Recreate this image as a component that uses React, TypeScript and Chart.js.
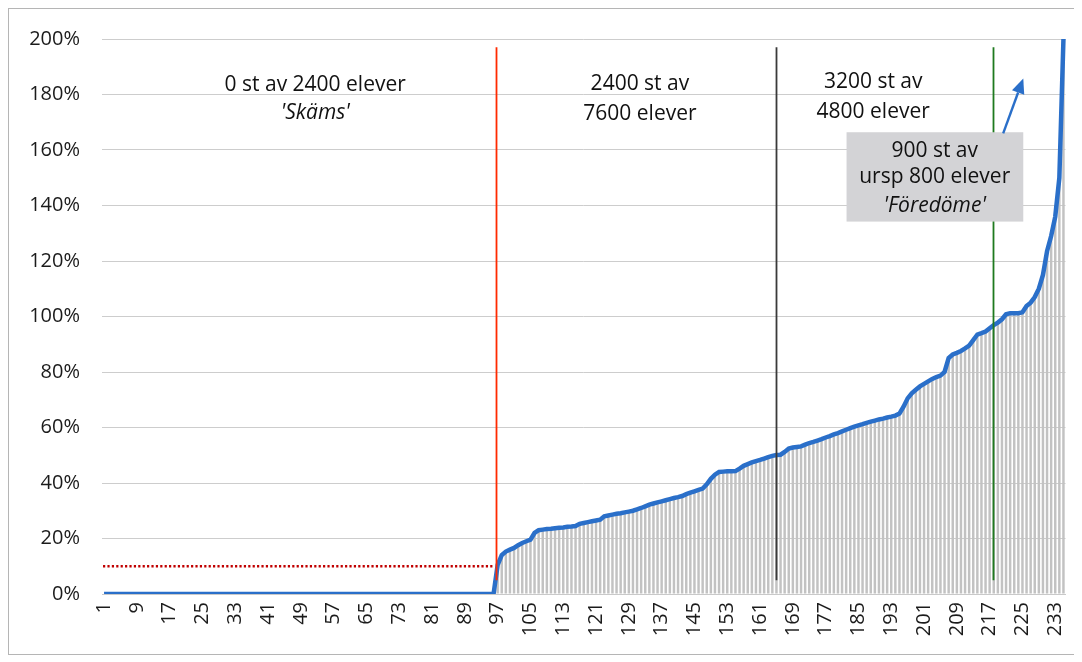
import React, { useEffect, useRef } from 'react';
import { Chart, registerables } from 'chart.js';

Chart.register(...registerables);

// x categories: school rank 1..235
const categories: string[] = Array.from({ length: 235 }, (_, i) => String(i + 1));

// tick labels actually printed on the x axis
const shownTickLabels = [
  '1', '9', '17', '25', '33', '41', '49', '57', '65', '73', '81', '89', '97', '105', '113',
  '121', '129', '137', '145', '153', '161', '169', '177', '185', '193', '201', '209', '217', '225', '233',
];

// rank 1..96: share = 0 %
const zeroRates = [
  0, 0, 0, 0, 0, 0, 0, 0, 0, 0, 0, 0,
  0, 0, 0, 0, 0, 0, 0, 0, 0, 0, 0, 0,
  0, 0, 0, 0, 0, 0, 0, 0, 0, 0, 0, 0,
  0, 0, 0, 0, 0, 0, 0, 0, 0, 0, 0, 0,
  0, 0, 0, 0, 0, 0, 0, 0, 0, 0, 0, 0,
  0, 0, 0, 0, 0, 0, 0, 0, 0, 0, 0, 0,
  0, 0, 0, 0, 0, 0, 0, 0, 0, 0, 0, 0,
  0, 0, 0, 0, 0, 0, 0, 0, 0, 0, 0, 0,
];

// rank 97..235
const risingRates = [
  10.5, 14, 15.3, 16, 16.6, 17.6, 18.4, 19, 19.6, 22,
  23, 23.2, 23.4, 23.5, 23.7, 23.9, 24, 24.2, 24.3, 24.5,
  25.3, 25.6, 25.9, 26.2, 26.5, 26.8, 28, 28.3, 28.6, 28.9,
  29.1, 29.4, 29.7, 30, 30.5, 31, 31.6, 32.2, 32.6, 33,
  33.4, 33.8, 34.2, 34.6, 34.9, 35.3, 36, 36.5, 37, 37.5,
  38, 39.5, 41.5, 43, 44, 44.1, 44.2, 44.2, 44.3, 45.2,
  46.2, 46.8, 47.4, 47.9, 48.3, 48.8, 49.3, 49.8, 50.1, 50.2,
  51.2, 52.4, 52.8, 53, 53.2, 53.8, 54.4, 54.8, 55.3, 55.8,
  56.4, 56.9, 57.5, 58, 58.6, 59.2, 59.8, 60.3, 60.8, 61.2,
  61.7, 62.1, 62.5, 62.9, 63.2, 63.6, 63.9, 64.3, 65, 67.5,
  70.5, 72.3, 73.6, 74.8, 75.7, 76.6, 77.5, 78.2, 78.7, 80,
  85, 86.3, 86.9, 87.6, 88.5, 89.5, 91.5, 93.5, 94, 94.6,
  95.8, 96.9, 97.8, 99, 100.8, 101.2, 101.2, 101.2, 101.5, 103.8,
  105, 107, 110, 115, 123.5, 129, 136, 150, 200,
];

const rates = [...zeroRates, ...risingRates];

// y axis ticks
const yTicks = [0, 20, 40, 60, 80, 100, 120, 140, 160, 180, 200];

// vertical divider lines (category position, 1-based) and their colours
const dividerCats = [96.6, 165, 217.8];
const dividerColors = ['#ff2a00', '#3a3a3a', '#1f7a1f'];
const dividerFrom = 5;
const dividerTo = 197;

// red dotted threshold line at 10 %
const thresholdRate = 10;
const thresholdFromCat = 0.75;
const thresholdToCat = 95.8;

type Label = { text: string; cat: number; val: number; italic?: boolean };
const labels: Label[] = [
  { text: '0 st av 2400 elever', cat: 52.5, val: 181.4 },
  { text: "'Skäms'", cat: 52.5, val: 171.1, italic: true },
  { text: '2400 st av', cat: 131.7, val: 181.6 },
  { text: '7600 elever', cat: 131.7, val: 170.8 },
  { text: '3200 st av', cat: 188.6, val: 182.2 },
  { text: '4800 elever', cat: 188.6, val: 171.4 },
  { text: '900 st av', cat: 203.6, val: 157.6 },
  { text: 'ursp 800 elever', cat: 203.6, val: 148.0 },
  { text: "'Föredöme'", cat: 203.6, val: 137.8, italic: true },
];

const boxCats = [182.1, 225.2];
const boxVals = [134.2, 166.4];
const arrowFrom = { cat: 220.3, val: 166 };
const arrowTo = { cat: 225.2, val: 185.8 };

const FONT = '"Open Sans", "Liberation Sans", sans-serif';

const overlay = {
  id: 'overlay',
  afterDatasetsDraw(chart: any) {
    const { ctx, scales } = chart;
    const x = scales.x;
    const y = scales.y;
    const px = (c: number) => x.getPixelForValue(c - 1);
    const py = (v: number) => y.getPixelForValue(v);
    ctx.save();

    // dotted threshold
    ctx.beginPath();
    ctx.strokeStyle = '#c00000';
    ctx.lineWidth = 2.4;
    ctx.setLineDash([2.2, 2.2]);
    ctx.moveTo(px(thresholdFromCat), py(thresholdRate));
    ctx.lineTo(px(thresholdToCat), py(thresholdRate));
    ctx.stroke();
    ctx.setLineDash([]);

    // dividers
    dividerCats.forEach((c, i) => {
      ctx.beginPath();
      ctx.strokeStyle = dividerColors[i];
      ctx.lineWidth = 1.8;
      const xx = Math.round(px(c)) + 0.5;
      ctx.moveTo(xx, py(dividerTo));
      ctx.lineTo(xx, py(dividerFrom));
      ctx.stroke();
    });

    // grey box
    const bx0 = px(boxCats[0]);
    const bx1 = px(boxCats[1]);
    const by0 = py(boxVals[1]);
    const by1 = py(boxVals[0]);
    ctx.fillStyle = '#d3d3d6';
    ctx.fillRect(bx0, by0, bx1 - bx0, by1 - by0);

    // arrow
    const ax0 = px(arrowFrom.cat);
    const ay0 = py(arrowFrom.val);
    const ax1 = px(arrowTo.cat);
    const ay1 = py(arrowTo.val);
    const ang = Math.atan2(ay1 - ay0, ax1 - ax0);
    const headLen = 15;
    const headW = 6.5;
    const bxh = ax1 - headLen * Math.cos(ang);
    const byh = ay1 - headLen * Math.sin(ang);
    ctx.strokeStyle = '#2a6fc9';
    ctx.fillStyle = '#2a6fc9';
    ctx.lineWidth = 2.4;
    ctx.beginPath();
    ctx.moveTo(ax0, ay0);
    ctx.lineTo(bxh, byh);
    ctx.stroke();
    ctx.beginPath();
    ctx.moveTo(ax1, ay1);
    ctx.lineTo(bxh + headW * Math.sin(ang), byh - headW * Math.cos(ang));
    ctx.lineTo(bxh - headW * Math.sin(ang), byh + headW * Math.cos(ang));
    ctx.closePath();
    ctx.fill();

    // texts
    ctx.fillStyle = '#111';
    ctx.textAlign = 'center';
    ctx.textBaseline = 'alphabetic';
    labels.forEach((l) => {
      ctx.font = (l.italic ? 'italic ' : '') + '21px ' + FONT;
      ctx.fillText(l.text, px(l.cat), py(l.val));
    });

    ctx.restore();
  },
};

export default function App() {
  const ref = useRef<HTMLCanvasElement | null>(null);

  useEffect(() => {
    if (!ref.current) return;
    const chart = new Chart(ref.current, {
      type: 'bar',
      data: {
        labels: categories,
        datasets: [
          {
            type: 'line',
            data: rates,
            borderColor: '#2a6fc9',
            borderWidth: 4.5,
            pointRadius: 0,
            tension: 0,
            fill: false,
            order: 0,
          } as any,
          {
            type: 'bar',
            data: rates,
            backgroundColor: '#c2c2c2',
            barPercentage: 0.6,
            categoryPercentage: 1,
            order: 1,
          },
        ],
      },
      options: {
        responsive: false,
        animation: false,
        devicePixelRatio: 1,
        layout: { padding: { top: 30, right: 11.5, left: 0, bottom: 0 } },
        plugins: { legend: { display: false }, tooltip: { enabled: false } },
        scales: {
          x: {
            grid: { display: false, drawTicks: false },
            border: { display: true, color: '#c9c9c9' },
            ticks: {
              autoSkip: false,
              minRotation: 90,
              maxRotation: 90,
              padding: 8,
              color: '#1b1b1b',
              font: { family: FONT, size: 20 },
              callback: (_v: any, i: number) =>
                shownTickLabels.includes(categories[i]) ? categories[i] : '',
            },
            afterFit: (s: any) => {
              s.height = 60;
              s.paddingLeft = 0;
              s.paddingRight = 0;
            },
          },
          y: {
            min: 0,
            max: 200,
            afterBuildTicks: (s: any) => {
              s.ticks = yTicks.map((v) => ({ value: v }));
            },
            grid: { color: '#cdcdcd', lineWidth: 1, drawTicks: false },
            border: { display: false },
            ticks: {
              padding: 22,
              color: '#1b1b1b',
              font: { family: FONT, size: 20 },
              callback: (v: any) => v + '%',
            },
            afterFit: (s: any) => {
              s.width = 93;
              s.paddingTop = 0;
              s.paddingBottom = 0;
            },
          },
        },
      },
      plugins: [overlay],
    });
    return () => chart.destroy();
  }, []);

  return (
    <div style={{ width: 1068, height: 645, border: '1px solid #b5b5b5' }}>
      <canvas ref={ref} width={1068} height={645} style={{ display: 'block' }} />
    </div>
  );
}
